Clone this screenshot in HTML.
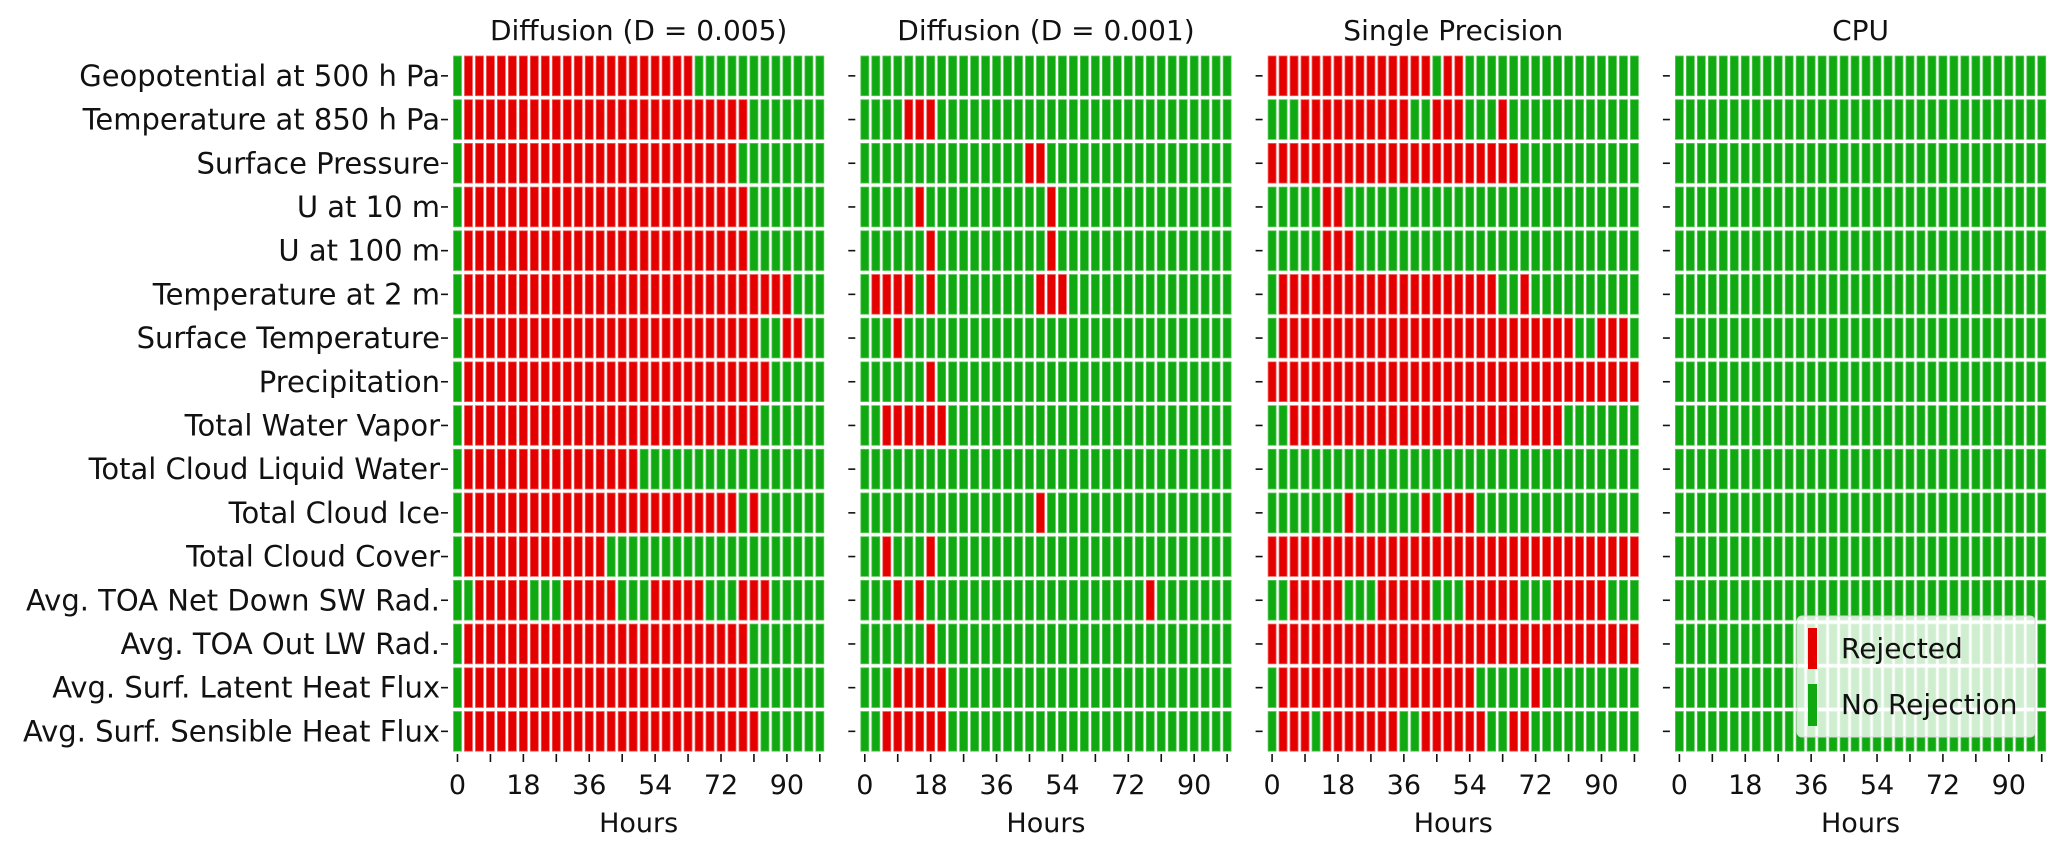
<!DOCTYPE html>
<html><head><meta charset="utf-8"><style>
html,body{margin:0;padding:0;background:#fff;}
svg{display:block;font-family:"DejaVu Sans","Liberation Sans",sans-serif;}
</style></head><body>
<svg id="chart" width="2067" height="847" viewBox="0 0 2067 847" xmlns="http://www.w3.org/2000/svg"></svg>
<script>
const rowLabels = ["Geopotential at 500 h Pa","Temperature at 850 h Pa","Surface Pressure","U at 10 m","U at 100 m","Temperature at 2 m","Surface Temperature","Precipitation","Total Water Vapor","Total Cloud Liquid Water","Total Cloud Ice","Total Cloud Cover","Avg. TOA Net Down SW Rad.","Avg. TOA Out LW Rad.","Avg. Surf. Latent Heat Flux","Avg. Surf. Sensible Heat Flux"];
const panelTitles = ["Diffusion (D = 0.005)","Diffusion (D = 0.001)","Single Precision","CPU"];
const hours = [0,3,6,9,12,15,18,21,24,27,30,33,36,39,42,45,48,51,54,57,60,63,66,69,72,75,78,81,84,87,90,93,96,99];
const tickHours = [0,9,18,27,36,45,54,63,72,81,90,99];
const tickLabels = ["0","","18","","36","","54","","72","","90",""];
// red (rejected) column-index ranges, inclusive, per row
const rejectedP1 = [[[1,21]],[[1,26]],[[1,25]],[[1,26]],[[1,26]],[[1,30]],[[1,27],[30,31]],[[1,28]],[[1,27]],[[1,16]],[[1,25],[27,27]],[[1,13]],[[2,6],[10,14],[18,22],[26,28]],[[1,26]],[[1,26]],[[1,27]]];
const rejectedP2 = [[],[[4,6]],[[15,16]],[[5,5],[17,17]],[[6,6],[17,17]],[[1,4],[6,6],[16,18]],[[3,3]],[[6,6]],[[2,7]],[],[[16,16]],[[2,2],[6,6]],[[3,3],[5,5],[26,26]],[[6,6]],[[3,7]],[[2,7]]];
const rejectedP3 = [[[0,14],[16,17]],[[3,12],[15,17],[21,21]],[[0,22]],[[5,6]],[[5,7]],[[1,20],[23,23]],[[1,27],[30,32]],[[0,33]],[[2,26]],[],[[7,7],[14,14],[16,18]],[[0,33]],[[2,6],[10,14],[18,22],[26,30]],[[0,33]],[[1,18],[24,24]],[[1,3],[5,11],[14,19],[22,23]]];
const rejectedP4 = [[],[],[],[],[],[],[],[],[],[],[],[],[],[],[],[]];

const panels=[rejectedP1,rejectedP2,rejectedP3,rejectedP4];
const NS="http://www.w3.org/2000/svg";
const svg=document.getElementById('chart');
const RED="#e50000", GREEN="#11a911";
const colW=10.98, rowH=43.7, top0=55;
function panelLeft(p){return 452+407.3*p;}
function xOfHour(p,h){return panelLeft(p)+colW*(h/3+0.5);}
function yOfRow(i){return top0+rowH*i;}
function mk(tag,attrs,parent){const e=document.createElementNS(NS,tag);for(const k in attrs)e.setAttribute(k,attrs[k]);(parent||svg).appendChild(e);return e;}
function isRed(ranges,c){return ranges.some(r=>c>=r[0]&&c<=r[1]);}

panels.forEach((data,p)=>{
  const g=mk('g',{});
  
  
  const t=mk('text',{x:panelLeft(p)+colW*17,y:40,'text-anchor':'middle','font-size':28,fill:'#111'},g);
  t.textContent=panelTitles[p];
  
  
  rowLabels.forEach((lab,i)=>{
    hours.forEach((h,c)=>{
      const red=isRed(data[i],c);
      const r=mk('rect',{x:xOfHour(p,h)-4,y:yOfRow(i)+1,width:8,height:rowH-4,fill:red?RED:GREEN,stroke:red?'#f06060':'#5ac85a','stroke-width':0.8},g);
      
      
    });
    const cy=yOfRow(i)+rowH/2-1;
    const tk=mk('line',{x1:panelLeft(p)-11,x2:panelLeft(p)-4,y1:cy,y2:cy,stroke:'#111','stroke-width':1.6},g);
    
    
    if(p===0){
      const tl=mk('text',{x:panelLeft(p)-12,y:cy+10,'text-anchor':'end','font-size':29,fill:'#111'},g);
      tl.textContent=lab;
      
      
    }
  });
  tickHours.forEach((h,k)=>{
    const x=xOfHour(p,h);
    const l=mk('line',{x1:x,x2:x,y1:754,y2:762,stroke:'#111','stroke-width':1.6},g);
    
    
    if(tickLabels[k]){
      const tx=mk('text',{x:x,y:794,'text-anchor':'middle','font-size':27,fill:'#111'},g);
      tx.textContent=tickLabels[k];
      
      
    }
  });
  const xt=mk('text',{x:panelLeft(p)+colW*17,y:832,'text-anchor':'middle','font-size':27,fill:'#111'},g);
  xt.textContent='Hours';
  
  
});

// legend
const lg=mk('g',{});


mk('rect',{x:1797,y:616,width:238,height:121,rx:5,fill:'#ffffff','fill-opacity':0.8,stroke:'#d8d8d8','stroke-width':1},lg);
const p1=mk('rect',{x:1808,y:628,width:9,height:41,fill:RED},lg);


const p2=mk('rect',{x:1808,y:684,width:9,height:42,fill:GREEN},lg);


const t1=mk('text',{x:1841,y:658,'font-size':28,fill:'#111'},lg);
t1.textContent='Rejected';


const t2=mk('text',{x:1841,y:714,'font-size':28,fill:'#111'},lg);
t2.textContent='No Rejection';


</script>
</body></html>
